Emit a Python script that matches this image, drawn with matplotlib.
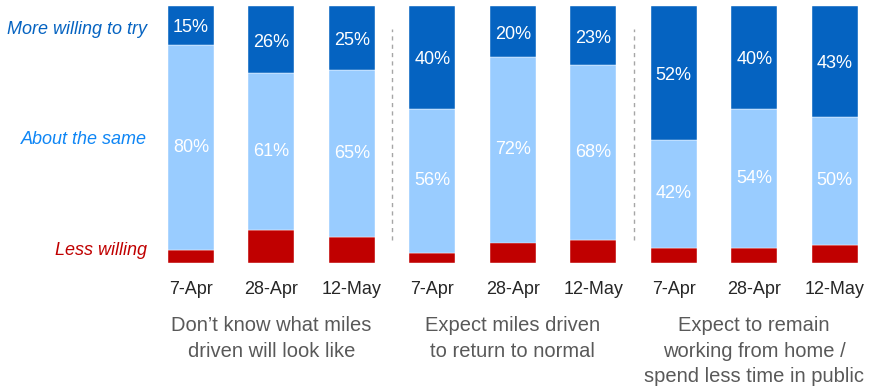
import numpy as np
import matplotlib
matplotlib.use('Agg')
import matplotlib.pyplot as plt

plt.rcParams['font.family'] = ['Liberation Sans', 'DejaVu Sans']

dates = ['7-Apr', '28-Apr', '12-May'] * 3
groups = ["Don\u2019t know what miles\ndriven will look like",
          "Expect miles driven\nto return to normal",
          "Expect to remain\nworking from home /\nspend less time in public"]
less_willing = [5, 13, 10, 4, 8, 9, 6, 6, 7]
about_same = [80, 61, 65, 56, 72, 68, 42, 54, 50]
more_willing = [15, 26, 25, 40, 20, 23, 52, 40, 43]

c_red = '#C00000'
c_light = '#99CCFF'
c_dark = '#0563C1'

fig = plt.figure(figsize=(8.91, 3.88), dpi=100)
ax = fig.add_axes([0.169, 0.322, 0.813, 0.6625])

x = np.arange(len(dates))
low = np.array(less_willing)
mid = np.array(about_same)
top = np.array(more_willing)
w = 0.57
ax.bar(x, low, w, color=c_red, edgecolor='white', linewidth=0.3)
ax.bar(x, mid, w, bottom=low, color=c_light, edgecolor='white', linewidth=0.3)
ax.bar(x, top, w, bottom=low + mid, color=c_dark, edgecolor='white', linewidth=0.3)

for i in x:
    ax.text(i, low[i] + mid[i] / 2, f'{mid[i]}%', ha='center', va='center',
            color='white', fontsize=13)
    ax.text(i, low[i] + mid[i] + top[i] / 2 - 1, f'{top[i]}%', ha='center',
            va='center', color='white', fontsize=13)

for xs in [2.5, 5.5]:
    ax.plot([xs, xs], [9, 91], color='#A6A6A6', linestyle=(0, (3, 3)),
            linewidth=1)

ax.set_xlim(-0.5, 8.5)
ax.set_ylim(0, 100)
ax.set_xticks(x)
ax.set_xticklabels(dates, fontsize=13, color='#262626')
ax.tick_params(axis='x', length=0, pad=13)
ax.set_yticks([])
for s in ax.spines.values():
    s.set_visible(False)

for g, label in enumerate(groups):
    ax.text(g * 3 + 1, -20.5, label, ha='center', va='top', fontsize=14.5,
            color='#595959', linespacing=1.45)

side = [('More willing to try', 91, c_dark),
        ('About the same', 48, '#0F86F5'),
        ('Less willing', 5, c_red)]
for txt, yv, col in side:
    ax.text(-0.55, yv, txt, ha='right', va='center', fontsize=13,
            style='italic', color=col)

fig.savefig('out.png', dpi=100)
